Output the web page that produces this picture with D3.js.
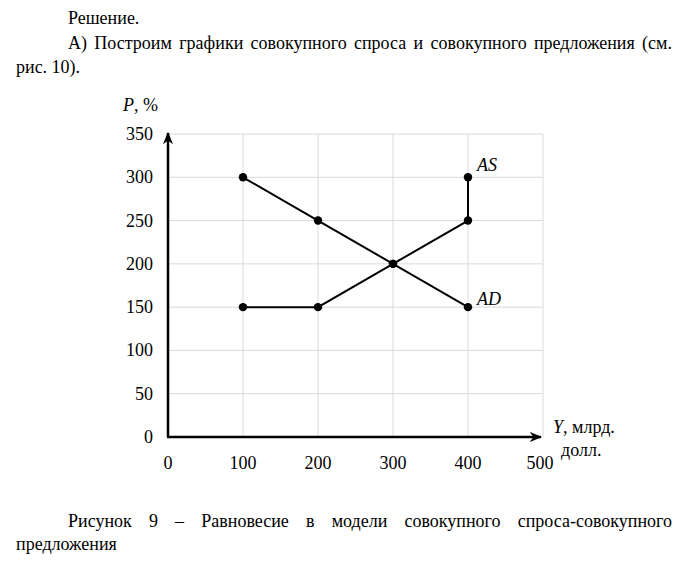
<!DOCTYPE html>
<html>
<head>
<meta charset="utf-8">
<script src="https://cdn.jsdelivr.net/npm/d3@7"></script>
<style>
  body { margin: 0; background: #fff; }
  #chart text { font-family: Tinos, "Times New Roman", Times, "Liberation Serif", "Noto Serif", "DejaVu Serif", serif; }
</style>
</head>
<body>
<svg id="chart" width="696" height="568"></svg>
<script>
// data
var xTicks = [0, 100, 200, 300, 400, 500];
var yTicks = [0, 50, 100, 150, 200, 250, 300, 350];
var adY = [100, 200, 300, 400];
var adP = [300, 250, 200, 150];
var asY = [100, 200, 300, 400, 400];
var asP = [150, 150, 200, 250, 300];

var svg = d3.select("#chart");

var x = d3.scaleLinear().domain([0, 500]).range([168, 543]);
var y = d3.scaleLinear().domain([0, 350]).range([437, 134]);

// paragraph text, justified lines get word-spacing
function textLine(str, x0, yb, justifyTo) {
    var t = svg.append("text").attr("x", x0).attr("y", yb)
        .attr("font-size", 18).text(str);
    if (justifyTo) {
        var w = t.node().getComputedTextLength();
        var gaps = str.split(" ").length - 1;
        if (gaps > 0) t.attr("word-spacing", (justifyTo - x0 - w) / gaps);
    }
    return t;
}
textLine("Решение.", 68, 24);
textLine("А) Построим графики совокупного спроса и совокупного предложения (см.", 68, 49, 672);
textLine("рис. 10).", 16, 73);
textLine("Рисунок 9 – Равновесие в модели совокупного спроса-совокупного", 68, 527, 672);
textLine("предложения", 16, 550);

// grid
var grid = svg.append("g");
grid.selectAll("line.v").data(xTicks.filter(function (d) { return d > 0; })).enter()
    .append("line")
    .attr("x1", function (d) { return x(d); }).attr("x2", function (d) { return x(d); })
    .attr("y1", y(0)).attr("y2", y(350))
    .attr("stroke", "#d9d9d9").attr("stroke-width", 1);
grid.selectAll("line.h").data(yTicks.filter(function (d) { return d > 0; })).enter()
    .append("line")
    .attr("x1", x(0)).attr("x2", x(500))
    .attr("y1", function (d) { return y(d); }).attr("y2", function (d) { return y(d); })
    .attr("stroke", "#d9d9d9").attr("stroke-width", 1);

// axes with arrows
svg.append("defs").append("marker")
    .attr("id", "arrow").attr("viewBox", "0 0 10 10")
    .attr("refX", 9).attr("refY", 5)
    .attr("markerWidth", 5).attr("markerHeight", 5)
    .attr("markerUnits", "strokeWidth")
    .attr("orient", "auto")
    .append("path").attr("d", "M0,1 L10,5 L0,9 L3,5 Z").attr("fill", "#000");

svg.append("line")
    .attr("x1", x(0)).attr("y1", y(0)).attr("x2", x(0)).attr("y2", y(350) - 1)
    .attr("stroke", "#000").attr("stroke-width", 2.5).attr("marker-end", "url(#arrow)");
svg.append("line")
    .attr("x1", x(0) - 1).attr("y1", y(0)).attr("x2", x(500) - 2).attr("y2", y(0))
    .attr("stroke", "#000").attr("stroke-width", 2.5).attr("marker-end", "url(#arrow)");

// tick labels
svg.selectAll("text.ylab").data(yTicks).enter().append("text")
    .attr("class", "ylab")
    .attr("x", 153).attr("y", function (d) { return y(d) + 6; })
    .attr("text-anchor", "end").attr("font-size", 18)
    .text(function (d) { return d; });
svg.selectAll("text.xlab").data(xTicks).enter().append("text")
    .attr("class", "xlab")
    .attr("x", function (d) { return x(d) - (d === 500 ? 3 : 0); }).attr("y", 469)
    .attr("text-anchor", "middle").attr("font-size", 18)
    .text(function (d) { return d; });

// axis titles
var pt = svg.append("text").attr("x", 123).attr("y", 111).attr("font-size", 18);
pt.append("tspan").attr("font-style", "italic").text("P");
pt.append("tspan").text(", %");
var yt = svg.append("text").attr("x", 553).attr("y", 433).attr("font-size", 18);
yt.append("tspan").attr("font-style", "italic").text("Y");
yt.append("tspan").text(", млрд.");
svg.append("text").attr("x", 561).attr("y", 456).attr("font-size", 18).text("долл.");

// lines
var line = d3.line()
    .x(function (d) { return x(d[0]); })
    .y(function (d) { return y(d[1]); });
var ad = d3.zip(adY, adP);
var as = d3.zip(asY, asP);

[ad, as].forEach(function (s) {
    svg.append("path").datum(s)
        .attr("d", line).attr("fill", "none")
        .attr("stroke", "#000").attr("stroke-width", 2);
    svg.selectAll(null).data(s).enter().append("circle")
        .attr("cx", function (d) { return x(d[0]); })
        .attr("cy", function (d) { return y(d[1]); })
        .attr("r", 4.2).attr("fill", "#000");
});

// curve labels
svg.append("text").attr("x", x(400) + 9).attr("y", y(300) - 6)
    .attr("font-size", 18).attr("font-style", "italic").text("AS");
svg.append("text").attr("x", x(400) + 9).attr("y", y(150) - 2)
    .attr("font-size", 18).attr("font-style", "italic").text("AD");
</script>
</body>
</html>
